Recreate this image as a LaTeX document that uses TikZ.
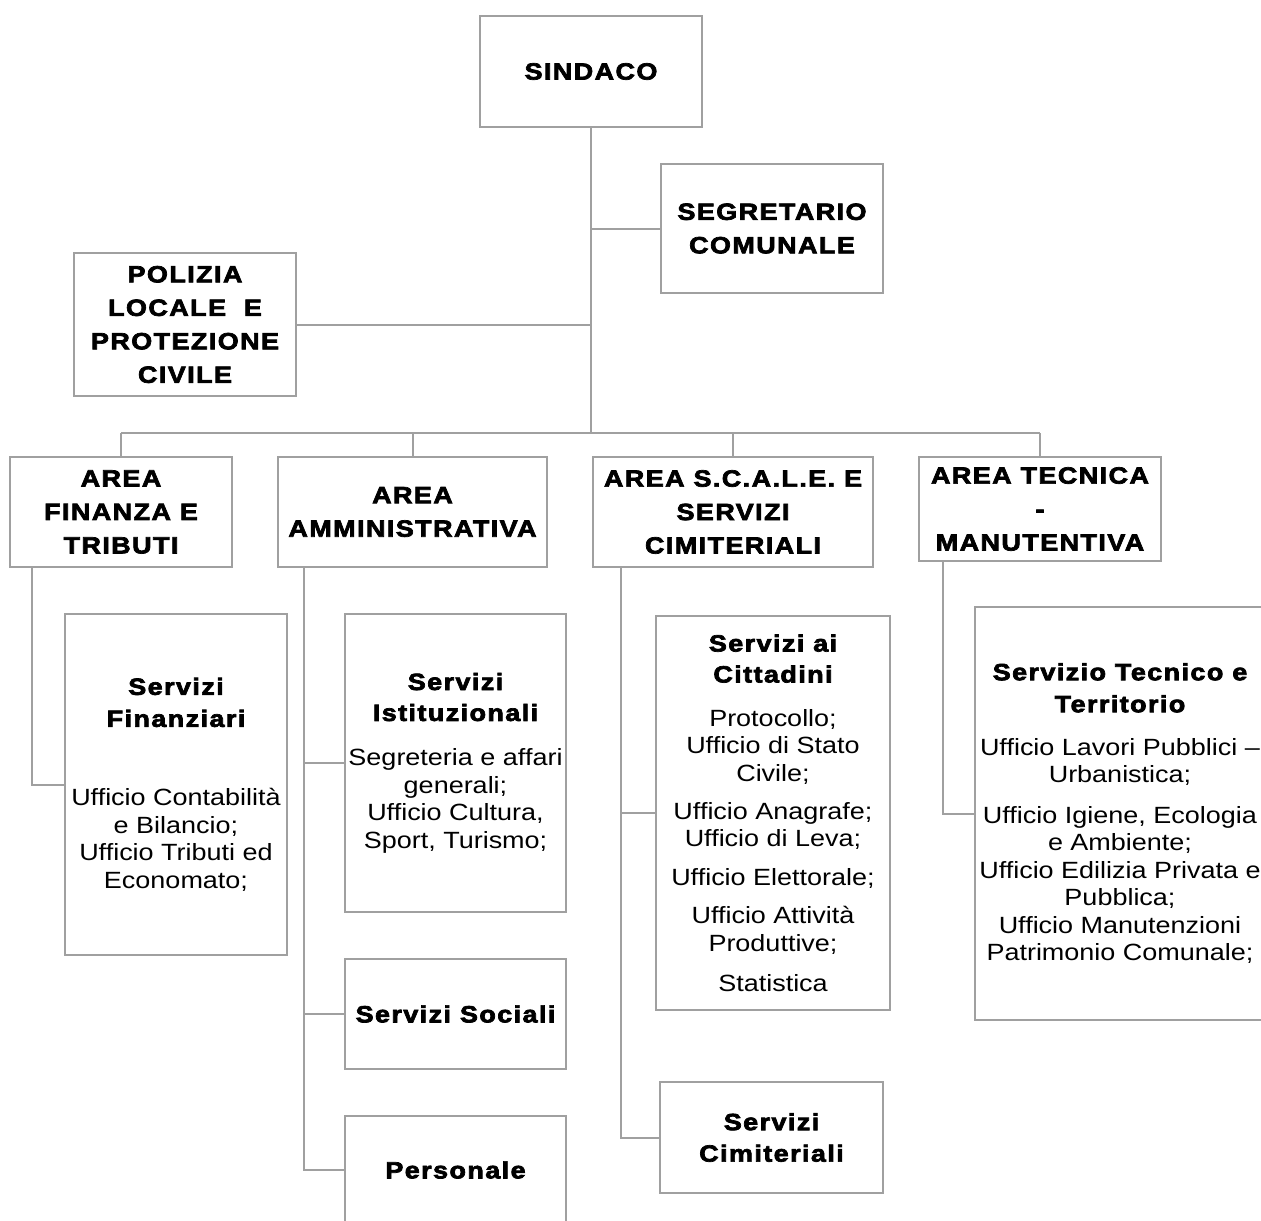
\documentclass[tikz,border=0pt]{standalone}
\usepackage{fontspec}
\setmainfont{Liberation Sans}[FakeStretch=1.15]
\newfontfamily\hdfont{Liberation Sans}[FakeStretch=1.15,LetterSpace=6,FakeBold=3]
\newlength{\pu}
\setlength{\pu}{0.75pt}
\definecolor{linegray}{HTML}{A0A0A0}
% bold heading line inside a box
\newcommand{\hd}[1]{{\hdfont\bfseries\fontsize{17.6pt}{24pt}\selectfont #1}}
\begin{document}
\begin{tikzpicture}[x=0.75pt,y=-0.75pt,
    orgbox/.style={draw=linegray,line width=2\pu,fill=white,inner sep=0pt,align=center},
    capsbox/.style={orgbox,font=\hdfont\bfseries\fontsize{17.6pt}{25.1pt}\selectfont},
    subbox/.style={orgbox,font=\fontsize{17.6pt}{20.6pt}\selectfont},
    link/.style={draw=linegray,line width=2\pu}]

    \useasboundingbox (0,0) rectangle (1261,1221);
    \clip (0,0) rectangle (1261,1221);
    \fill[white] (0,0) rectangle (1261,1221);

    % top levels
    \node[capsbox,minimum width=222\pu,minimum height=111\pu] (sindaco) at (591,71.5) {SINDACO};
    \node[capsbox,minimum width=222\pu,minimum height=129\pu] (segr) at (772,228.5) {SEGRETARIO\\COMUNALE};
    \node[capsbox,minimum width=222\pu,minimum height=143\pu] (pol) at (185,324.5) {POLIZIA\\LOCALE~~E\\PROTEZIONE\\CIVILE};

    % areas
    \node[capsbox,minimum width=222\pu,minimum height=110\pu] (afin) at (121,512) {AREA\\FINANZA E\\TRIBUTI};
    \node[capsbox,minimum width=269\pu,minimum height=110\pu] (aamm) at (412.5,512) {AREA\\AMMINISTRATIVA};
    \node[capsbox,minimum width=280\pu,minimum height=110\pu] (ascale) at (733,512) {AREA S.C.A.L.E. E\\SERVIZI\\CIMITERIALI};
    \node[capsbox,minimum width=242\pu,minimum height=104\pu] (atec) at (1040,509) {AREA TECNICA\\-\\MANUTENTIVA};

    % services
    \node[subbox,minimum width=222\pu,minimum height=341\pu] (sfin) at (176,784.5)
        {\hd{Servizi}\\[3.4pt]\hd{Finanziari}\\[38.6pt]Ufficio Contabilità\\e Bilancio;\\Ufficio Tributi ed\\Economato;};
    \node[subbox,minimum width=221\pu,minimum height=298\pu] (sist) at (455.5,763)
        {\hd{Servizi}\\[2.6pt]\hd{Istituzionali}\\[13pt]Segreteria e affari\\ generali;\\Ufficio Cultura,\\Sport, Turismo;};
    \node[subbox,minimum width=221\pu,minimum height=110\pu] (ssoc) at (455.5,1014) {\hd{Servizi Sociali}};
    \node[subbox,minimum width=221\pu,minimum height=108\pu] (spers) at (455.5,1170) {\hd{Personale}};
    \node[subbox,minimum width=234\pu,minimum height=394\pu] (scitt) at (773,813)
        {\hd{Servizi ai}\\[2.6pt]\hd{Cittadini}\\[12.4pt]Protocollo;\\Ufficio di Stato\\Civile;\\[7.9pt]Ufficio Anagrafe;\\ Ufficio di Leva;\\[8.6pt]Ufficio Elettorale;\\[7.9pt]Ufficio Attività\\Produttive;\\[9.4pt]Statistica};
    \node[subbox,minimum width=223\pu,minimum height=111\pu] (scim) at (771.5,1137.5) {\hd{Servizi}\\[3pt]\hd{Cimiteriali}};
    \node[subbox,minimum width=290\pu,minimum height=413\pu] (stec) at (1120,813.5)
        {\hd{Servizio Tecnico e}\\[3.4pt]\hd{Territorio}\\[11.6pt]Ufficio Lavori Pubblici --\\Urbanistica;\\[10pt]Ufficio Igiene, Ecologia\\e Ambiente;\\Ufficio Edilizia Privata e\\Pubblica;\\Ufficio Manutenzioni\\Patrimonio Comunale;};

    % trunk and bus
    \coordinate (bus) at (591,433);
    \draw[link] (sindaco.south) -- (bus);
    \draw[link] (segr.west) -- (segr.west -| sindaco.south);
    \draw[link] (pol.east) -- (pol.east -| sindaco.south);
    \draw[link] (afin.north |- bus) -- (atec.north |- bus);
    \foreach \n in {afin,aamm,ascale,atec}
        \draw[link] (\n.north) -- (\n.north |- bus);

    % spines under the areas
    \coordinate (finspine) at ([xshift=23\pu]afin.south west);
    \draw[link] (finspine) |- (sfin.west);

    \coordinate (ammspine) at ([xshift=27\pu]aamm.south west);
    \draw[link] (ammspine) |- (spers.west);
    \foreach \n in {sist,ssoc}
        \draw[link] (\n.west) -- (\n.west -| ammspine);

    \coordinate (scalespine) at ([xshift=29\pu]ascale.south west);
    \draw[link] (scalespine) |- (scim.west);
    \draw[link] (scitt.west) -- (scitt.west -| scalespine);

    \coordinate (tecspine) at ([xshift=25\pu]atec.south west);
    \draw[link] (tecspine) |- (stec.west);

\end{tikzpicture}
\end{document}
